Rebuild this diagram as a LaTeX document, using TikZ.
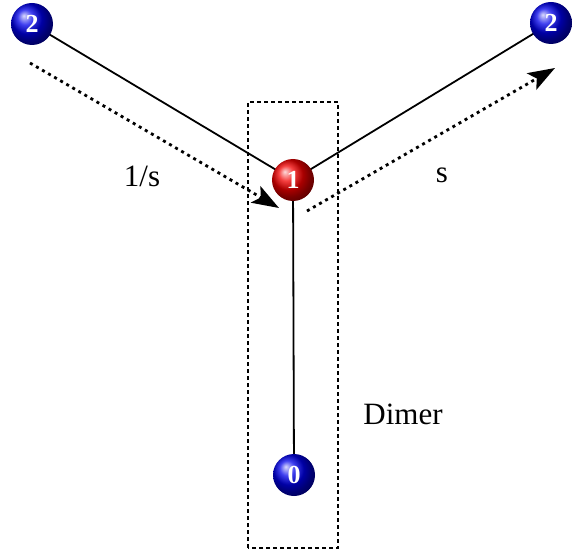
\documentclass[tikz,border=0pt]{standalone}
\usepackage{fontspec}
\setmainfont{Liberation Serif}
\usetikzlibrary{arrows.meta}
\begin{document}
\begin{tikzpicture}[x=1pt,y=1pt,
  ballnode/.style={circle,minimum size=42pt,inner sep=0pt,text=white,font=\fontsize{26}{26}\selectfont\bfseries},
  blueball/.style={ballnode,ball color=blue!92!black},
  redball/.style={ballnode,ball color=red!95!black},
  bond/.style={line width=1.8pt,black},
  hop/.style={line width=2.8pt,dash pattern=on 3pt off 4pt,-{Stealth[length=27pt,width=19pt,inset=6pt]}},
  lbl/.style={font=\fontsize{31}{31}\selectfont,inner sep=0pt}]
\useasboundingbox (0,0) rectangle (572,555);
\draw[line width=1.1pt,dash pattern=on 4pt off 3pt] (248,7) rectangle (338,453);
\coordinate (n2l) at (32,531);
\coordinate (n2r) at (551,532);
\coordinate (n1) at (293,375);
\coordinate (n0) at (294,80);
\draw[bond] (n2l) -- (n1);
\draw[bond] (n1) -- (n2r);
\draw[bond] (n1) -- (n0);
\node[blueball] (b2l) at (n2l) {2};
\node[blueball] (b2r) at (n2r) {2};
\node[redball] (b1) at (n1) {1};
\node[blueball] (b0) at (n0) {0};
\coordinate (a1s) at (30,492);
\coordinate (a1e) at (279,347);
\coordinate (a2s) at (307,344);
\coordinate (a2e) at (555,487);
\draw[hop] (a1s) -- (a1e);
\draw[hop] (a2s) -- (a2e);
\node[lbl] (l1) at (142,379) {1/s};
\node[lbl] (l2) at (442,380) {s};
\node[lbl] (l3) at (403,141) {Dimer};
\end{tikzpicture}
\end{document}
